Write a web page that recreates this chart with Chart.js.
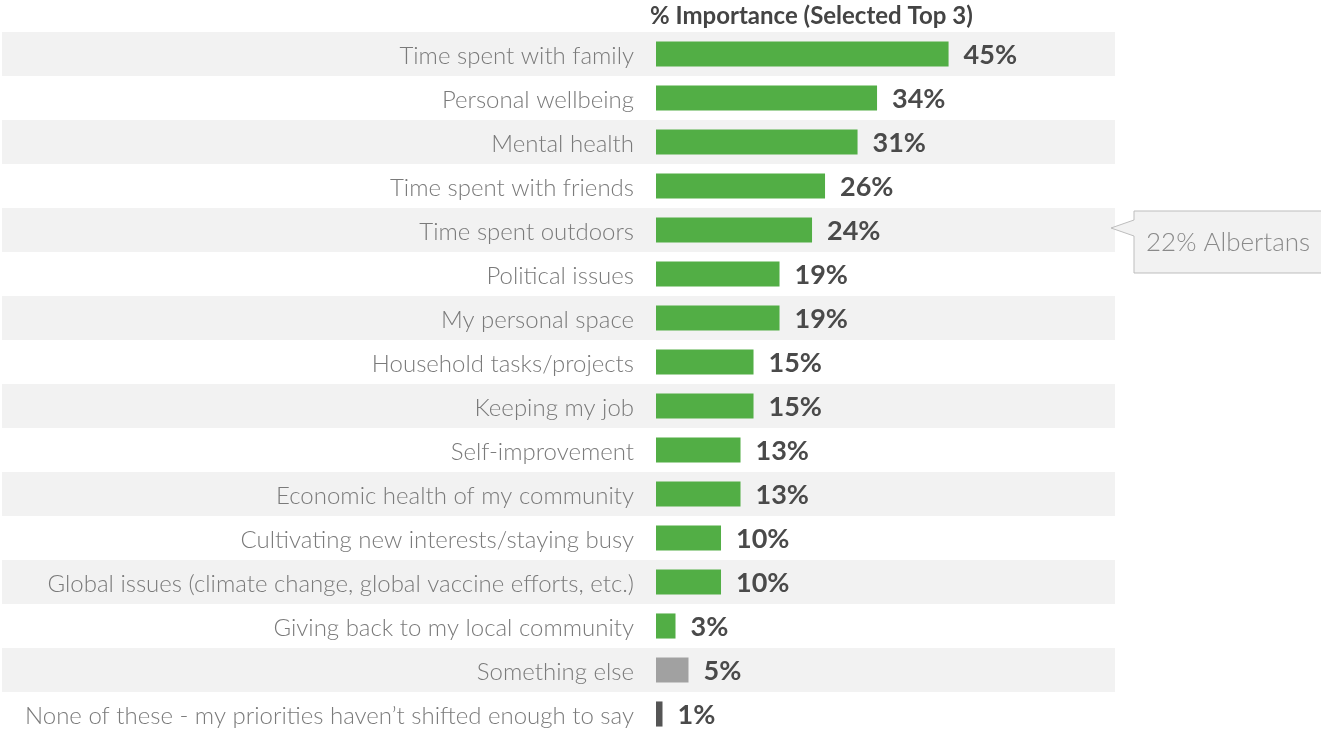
<!DOCTYPE html>
<html>
<head>
<meta charset="utf-8">
<script src="https://cdn.jsdelivr.net/npm/chart.js@4/dist/chart.umd.min.js"></script>
<style>
  html, body { margin: 0; padding: 0; background: #fff; overflow: hidden; }
  canvas { display: block; }
</style>
</head>
<body>
<canvas id="priorityChart" width="1321" height="736"></canvas>
<script>
// data
const categories = [
  'Time spent with family',
  'Personal wellbeing',
  'Mental health',
  'Time spent with friends',
  'Time spent outdoors',
  'Political issues',
  'My personal space',
  'Household tasks/projects',
  'Keeping my job',
  'Self-improvement',
  'Economic health of my community',
  'Cultivating new interests/staying busy',
  'Global issues (climate change, global vaccine efforts, etc.)',
  'Giving back to my local community',
  'Something else',
  'None of these - my priorities haven\u2019t shifted enough to say'
];
const importance = [45, 34, 31, 26, 24, 19, 19, 15, 15, 13, 13, 10, 10, 3, 5, 1];
const chartTitle = '% Importance (Selected Top 3)';
const calloutRow = 4;
const calloutText = '22% Albertans';

const GREEN = '#52ae45';
const barColors = categories.map((c, i) => i === 14 ? '#a1a1a1' : (i === 15 ? '#555555' : GREEN));
const FONT = "Lato, 'Open Sans', sans-serif";

// grey stripe behind every other row (drawn before the axis labels)
const rowBands = {
  id: 'rowBands',
  beforeDraw(chart) {
    const { ctx, chartArea, scales: { y } } = chart;
    const half = (y.getPixelForValue(1) - y.getPixelForValue(0)) / 2;
    ctx.save();
    ctx.fillStyle = '#f2f2f2';
    categories.forEach((c, i) => {
      if (i % 2 !== 0) return;
      const cy = y.getPixelForValue(i);
      ctx.fillRect(2, cy - half, chartArea.right - 2, half * 2);
    });
    ctx.restore();
  }
};

const valueLabels = {
  id: 'valueLabels',
  afterDatasetsDraw(chart) {
    const { ctx } = chart;
    const meta = chart.getDatasetMeta(0);
    ctx.save();
    ctx.font = 'bold 27px ' + FONT;
    ctx.fillStyle = '#4a4a4a';
    ctx.textAlign = 'left';
    ctx.textBaseline = 'middle';
    meta.data.forEach((bar, i) => {
      ctx.fillText(importance[i] + '%', bar.x + 15, bar.y + 1);
    });
    ctx.restore();
  }
};

const titleAndCallout = {
  id: 'titleAndCallout',
  afterDraw(chart) {
    const { ctx, chartArea, scales: { y } } = chart;
    ctx.save();
    // heading above the bars
    ctx.font = 'bold 24px ' + FONT;
    ctx.fillStyle = '#444444';
    ctx.textAlign = 'left';
    ctx.textBaseline = 'middle';
    ctx.fillText(chartTitle, chartArea.left - 6, 16);

    // speech-bubble note next to the outdoors row
    const cy = y.getPixelForValue(calloutRow);
    const left = chartArea.right + 19;
    const top = cy - 19, bottom = cy + 43;
    ctx.beginPath();
    ctx.moveTo(left, top);
    ctx.lineTo(1330, top);
    ctx.lineTo(1330, bottom);
    ctx.lineTo(left, bottom);
    ctx.lineTo(left, cy + 6);
    ctx.lineTo(chartArea.right - 4, cy - 2);
    ctx.lineTo(left, cy - 10);
    ctx.closePath();
    ctx.fillStyle = '#f2f2f2';
    ctx.fill();
    ctx.strokeStyle = '#bdbdbd';
    ctx.lineWidth = 1;
    ctx.stroke();
    ctx.font = '300 26px ' + FONT;
    ctx.fillStyle = '#8a8a8a';
    ctx.fillText(calloutText, left + 12, cy + 13);
    ctx.restore();
  }
};

new Chart(document.getElementById('priorityChart'), {
  type: 'bar',
  data: {
    labels: categories,
    datasets: [{
      data: importance,
      backgroundColor: barColors,
      borderWidth: 0,
      categoryPercentage: 1,
      barPercentage: 0.57
    }]
  },
  options: {
    indexAxis: 'y',
    responsive: false,
    animation: false,
    layout: { padding: { left: 0, right: 206, top: 32, bottom: 0 } },
    plugins: {
      legend: { display: false },
      tooltip: { enabled: false }
    },
    scales: {
      x: { display: false, min: 0, max: 70.6 },
      y: {
        afterFit(scale) {
          scale.width = 656;
          scale.paddingTop = 0;
          scale.paddingBottom = 0;
        },
        grid: { display: false, drawTicks: false },
        border: { display: false },
        ticks: {
          autoSkip: false,
          padding: 22,
          labelOffset: 2,
          color: '#7a7a7a',
          font: { family: FONT, size: 24, weight: 300 }
        }
      }
    }
  },
  plugins: [rowBands, valueLabels, titleAndCallout]
});
</script>
</body>
</html>
